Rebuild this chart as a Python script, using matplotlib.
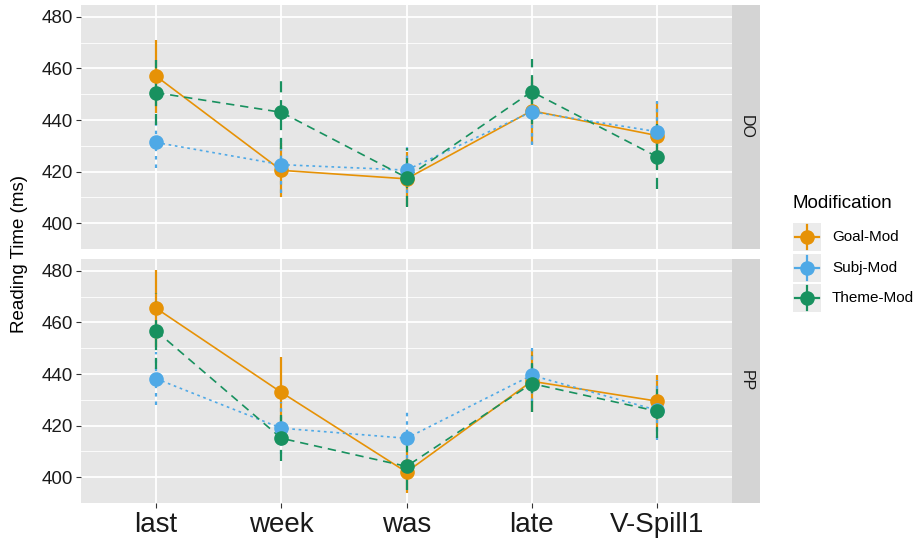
import matplotlib.pyplot as plt
import numpy as np

plt.rcParams['font.family'] = ['Liberation Sans', 'DejaVu Sans']

# data
words = ['last', 'week', 'was', 'late', 'V-Spill1']
panels = ['DO', 'PP']
mods = ['Goal-Mod', 'Subj-Mod', 'Theme-Mod']

do_goal = [457.0, 420.5, 417.2, 443.6, 434.0]
do_goal_se = [14.2, 10.5, 10.5, 13.0, 13.0]
do_subj = [431.3, 422.7, 420.6, 443.2, 435.5]
do_subj_se = [10.0, 11.0, 9.0, 13.0, 12.0]
do_theme = [450.6, 443.0, 417.7, 451.0, 425.8]
do_theme_se = [12.5, 14.3, 11.5, 12.5, 12.5]

pp_goal = [465.5, 432.9, 402.0, 437.2, 429.5]
pp_goal_se = [15.0, 13.6, 8.0, 12.0, 10.0]
pp_subj = [438.2, 419.0, 415.1, 439.5, 426.0]
pp_subj_se = [10.3, 10.0, 11.0, 10.5, 11.5]
pp_theme = [456.7, 415.1, 404.2, 436.3, 425.6]
pp_theme_se = [14.8, 9.0, 9.0, 11.2, 10.5]

colors = ['#E69206', '#4FA9E6', '#18915F']
styles = ['-', (0, (1.6, 2.2)), (0, (5, 3.5))]

data = {
    'DO': [(do_goal, do_goal_se), (do_subj, do_subj_se), (do_theme, do_theme_se)],
    'PP': [(pp_goal, pp_goal_se), (pp_subj, pp_subj_se), (pp_theme, pp_theme_se)],
}

W, H = 918, 542
fig = plt.figure(figsize=(W / 100, H / 100), dpi=100)

def px(x0, y0, x1, y1):
    return [x0 / W, 1 - y1 / H, (x1 - x0) / W, (y1 - y0) / H]

panel_pos = {'DO': (5, 249), 'PP': (259, 503)}
x = np.arange(len(words))

for name in panels:
    y0, y1 = panel_pos[name]
    ax = fig.add_axes(px(81, y0, 732, y1))
    ax.set_facecolor('#E6E6E6')
    for s in ax.spines.values():
        s.set_visible(False)
    ax.set_xlim(-0.6, 4.6)
    ax.set_ylim(390.8, 484.6)
    ax.set_yticks([400, 420, 440, 460, 480])
    ax.set_yticks([390, 410, 430, 450, 470], minor=True)
    ax.set_xticks(x)
    ax.grid(which='major', color='white', lw=1.3)
    ax.grid(which='minor', axis='y', color='white', lw=0.6)
    ax.set_axisbelow(True)
    ax.tick_params(axis='y', which='major', length=3.5, color='#333333',
                   labelsize=13.5, labelcolor='#1A1A1A', pad=2)
    ax.tick_params(axis='y', which='minor', length=0)
    if name == 'PP':
        ax.tick_params(axis='x', length=3.5, color='#333333', pad=3)
        ax.set_xticklabels(words, fontsize=20, color='#1A1A1A')
    else:
        ax.tick_params(axis='x', length=0)
        ax.set_xticklabels([])

    for (vals, se), c, ls in zip(data[name], colors, styles):
        vals = np.array(vals)
        se = np.array(se)
        ax.plot(x, vals, color=c, lw=1.2, ls=ls, zorder=3)
        ax.vlines(x, vals - se, vals + se, color=c, lw=1.6, ls=ls, zorder=3)
        ax.plot(x, vals, 'o', color=c, ms=9.5, zorder=4)

    # strip
    sax = fig.add_axes(px(732, y0, 760, y1))
    sax.set_facecolor('#D4D4D4')
    sax.set_xticks([])
    sax.set_yticks([])
    for s in sax.spines.values():
        s.set_visible(False)
    sax.text(0.5, 0.5, name, rotation=-90, ha='center', va='center',
             fontsize=11.5, color='#1A1A1A', transform=sax.transAxes)

fig.text(20 / W, 1 - 254 / H, 'Reading Time (ms)', rotation=90,
         ha='center', va='center', fontsize=13.5)

# legend drawn by hand
lax = fig.add_axes([0, 0, 1, 1], zorder=-1)
lax.set_xlim(0, W)
lax.set_ylim(H, 0)
lax.axis('off')
lax.text(792, 204, 'Modification', fontsize=13.5, ha='left', va='center')
key_y = [237, 268, 298]
for m, c, ky in zip(mods, colors, key_y):
    lax.add_patch(plt.Rectangle((793, ky - 14), 28, 28, color='#EBEBEB', lw=0))
    lax.plot([795, 819], [ky, ky], color=c, lw=1.6)
    lax.plot([807, 807], [ky - 12, ky + 12], color=c, lw=1.6)
    lax.plot([807], [ky], 'o', color=c, ms=9.5)
    lax.text(832, ky, m, fontsize=11, ha='left', va='center')

fig.savefig('out.png', dpi=100)
